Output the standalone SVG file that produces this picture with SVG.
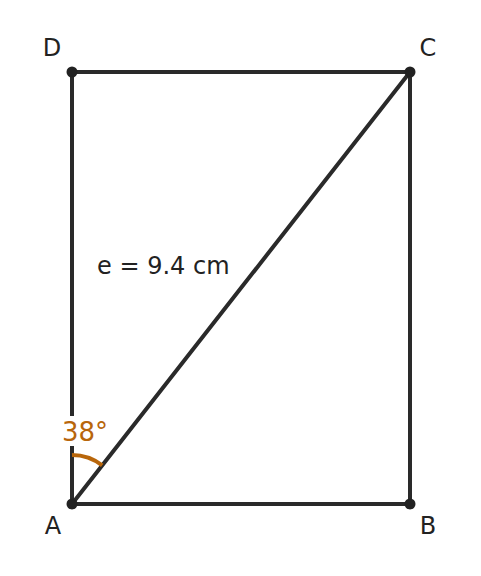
<svg xmlns="http://www.w3.org/2000/svg" width="481" height="576" viewBox="0 0 481 576">
<style>
.edge{stroke:#2a2a2a;stroke-width:4;fill:none;stroke-linecap:round}
.pt{fill:#222}
.lbl{font-family:"DejaVu Sans",sans-serif;font-size:24px;fill:#222;text-anchor:middle}
</style>
<rect width="481" height="576" fill="#fff"/>
<g id="connectors">
<line class="edge" x1="72" y1="504" x2="410" y2="504"/>
<line class="edge" x1="410" y1="504" x2="410" y2="72"/>
<line class="edge" x1="410" y1="72" x2="72" y2="72"/>
<line class="edge" x1="72" y1="72" x2="72" y2="504"/>
<line class="edge" x1="72" y1="504" x2="410" y2="72"/>
</g>
<g id="angle">
<path d="M72 455 A49 49 0 0 1 102.2 465.4" fill="none" stroke="#b8660b" stroke-width="4"/>
<rect x="59" y="416" width="52" height="30" fill="#fff"/>
<text x="85" y="441" font-family="DejaVu Sans,sans-serif" font-size="26" fill="#b8660b" text-anchor="middle">38°</text>
</g>
<g id="A"><circle class="pt" cx="72" cy="504" r="5.5"/><text class="lbl" x="53" y="534">A</text></g>
<g id="B"><circle class="pt" cx="410" cy="504" r="5.5"/><text class="lbl" x="428" y="534">B</text></g>
<g id="C"><circle class="pt" cx="410" cy="72" r="5.5"/><text class="lbl" x="428" y="56">C</text></g>
<g id="D"><circle class="pt" cx="72" cy="72" r="5.5"/><text class="lbl" x="52" y="56">D</text></g>
<g id="diag-label"><text x="97" y="274" font-family="DejaVu Sans,sans-serif" font-size="24" fill="#222">e = 9.4 cm</text></g>
</svg>
